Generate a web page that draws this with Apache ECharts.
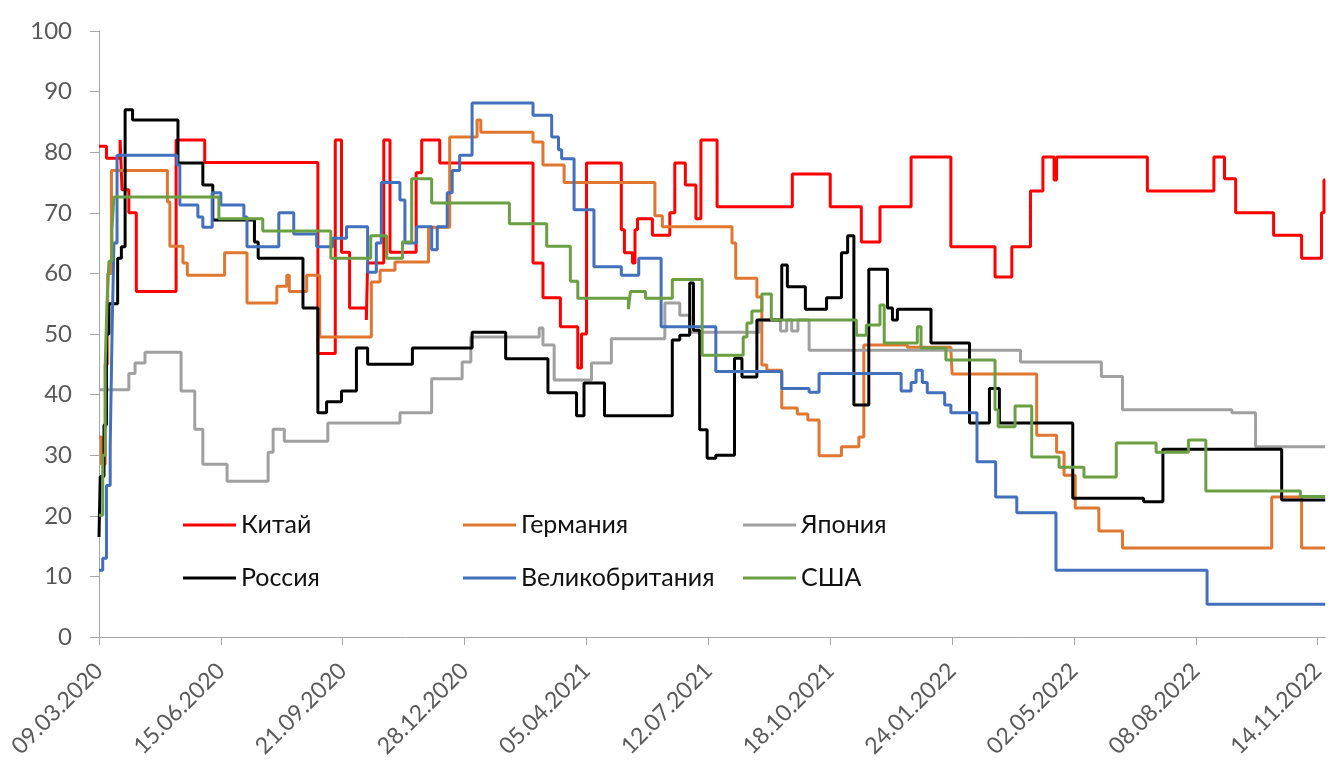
<!DOCTYPE html>
<html>
<head>
<meta charset="utf-8">
<script src="https://cdn.jsdelivr.net/npm/echarts@6.0.0/dist/echarts.min.js"></script>
<style>
  html, body { margin: 0; padding: 0; background: #fff; }
  #chart { width: 1328px; height: 772px; }
</style>
</head>
<body>
<div id="chart"></div>
<script>
// x = days since 09.03.2020, each point is the day the value starts
const tickLabels = ['09.03.2020', '15.06.2020', '21.09.2020', '28.12.2020', '05.04.2021', '12.07.2021',
  '18.10.2021', '24.01.2022', '02.05.2022', '08.08.2022', '14.11.2022']
const tickStep = 98
const lastDay = 986

const china = [[0,81],[6,79],[17,82],[18.5,73.8],[24,70],[30,57],[62,82],[85,78.3],[176,46.8],[190,82],[195,63.5],
  [201.5,54.3],[215,52.3],[216,61.7],[229,82],[234,63.5],[255,76.6],[259.5,82],[274,78.2],[349,61.7],[357,56],
  [371,51.2],[385,44.4],[388,50],[392,78.2],[420,67.2],[422.5,63.4],[429,61.7],[431,67.2],[433,69],[445,66.3],
  [459,70],[463,78.2],[471.5,74.6],[480,69],[484,82],[497,71],[557.5,76.4],[588,71],[613,65.2],[628,71],
  [653,79.2],[685,64.4],[720.5,59.4],[734,64.4],[749,73.6],[759,79.2],[768,75.4],[770,79.2],[843,73.6],
  [896.5,79.2],[905,75.6],[914,70],[944.5,66.3],[967,62.5],[983,70],[985,75.4],[986,75.4]]

const germany = [[0,33],[2,28.5],[5,45],[7,60],[10,77],[55,71.8],[57,64.5],[67.5,61.7],[71,59.7],[101,63.4],
  [119,55.1],[143,57.9],[151,59.7],[153,57],[167,59.7],[177.5,49.5],[219,58.6],[226,60.5],[238,61.9],[265,67.6],
  [282,82.5],[304,85.3],[307,83.3],[349,81.7],[357,77.9],[374,75],[447,69.5],[453,67.7],[509,65],[512,59.2],
  [529,56.1],[533,44.9],[537,44],[549,37.8],[561.5,36.8],[570,35.8],[579,29.9],[597,31.4],[611,33],[615,48.2],
  [650,47.8],[685,47.4],[686,43.4],[754,33.3],[770,30.5],[776,26.7],[785,21.3],[804,17.5],[823,14.7],[943,23.1],
  [967,14.7],[986,14.7]]

const japan = [[0,40.8],[24,43.5],[29,45.2],[37,47],[66,40.6],[77,34.3],[83.5,28.5],[103,25.7],[136,30.5],
  [140,34.3],[149,32.3],[184,35.3],[242,37],[267.5,42.6],[292,45.4],[299,49.5],[354,51],[357,48.2],[366,42.4],
  [396,45.2],[412,49.2],[455,55.1],[467,53.1],[475,50.3],[531,52.3],[548,50.5],[553,52.3],[557,50.5],[562,52.3],
  [571,47.3],[741,45.4],[806,43],[823,37.5],[911,37],[930,31.4],[986,31.4]]

const russia = [[0,16.5],[1,26.5],[4,35],[6,50],[8,55],[15,62.5],[18,64.4],[21,87],[27,85.3],[63.5,78.2],
  [83.5,74.6],[91.5,68.8],[125,65.2],[128,62.5],[164,54.3],[176,37],[183,38.8],[195,40.6],[207,47.7],[216,45],
  [252,47.7],[300,50.3],[327,45.9],[361,40.3],[384,36.5],[390,41.9],[406.5,36.5],[461,49],[467,49.8],[475,58.4],
  [478,50.6],[483,34.2],[489,29.5],[496,30],[511,46],[517,42.9],[529,52.3],[549,61.4],[553.5,57.8],[568,54.1],
  [585,56],[597,63.4],[602,66.2],[607,38.3],[619,60.7],[634,54.3],[638,52.3],[642,54.1],[669,48.5],[700,35.3],
  [716,41],[724,35.3],[783,22.9],[840,22.3],[855.5,31],[951,22.6],[986,22.6]]

const uk = [[0,11],[3,13],[6,25],[9,31.4],[10.5,50],[12,65],[14.5,79.5],[62.7,77.9],[65,71.3],[79.5,69.3],
  [83.5,67.6],[91,73.3],[98,71.3],[116.5,69.3],[119,64.4],[144.6,70],[156.6,66.5],[175,64.4],[188,65.8],
  [199,67.7],[216,60.2],[223,65],[227,75],[242,72.1],[246,65],[255.4,67.7],[267.5,63.9],[272,67.7],[280,73.3],
  [284,77],[290,79.5],[300,88.1],[349,86.1],[364,82.5],[369.5,80.4],[372,78.9],[382,70.5],[398,61.1],[420,59.7],
  [434,62.5],[452,51.2],[496,43.8],[549,41],[571,40.4],[579,43.5],[645,40.6],[653,42],[657,44],[662,42],
  [666,40.3],[680,38.3],[685,37],[706,28.9],[721,23.1],[738,20.5],[769.5,11],[891,5.4],[986,5.4]]

const usa = [[0,20.1],[3,30],[5,45],[6.4,55],[8,62],[10.4,67.2],[12,72.6],[96.4,69],[131.7,67],[186.4,62.5],
  [218.5,66.2],[231.3,62.5],[244,65.2],[251.4,75.6],[267.5,71.6],[330,68.2],[360,64.5],[379,58.7],[385,55.9],
  [425.7,54.1],[427.3,57],[439.4,55.9],[461,59],[485,46.5],[518,49.5],[521,51.8],[525,53.8],[533,56.6],
  [540.6,52.3],[609,49.8],[617,51.5],[628,54.8],[631.4,48.5],[658,51.2],[661,47.7],[681,45.7],[720.5,37.5],
  [723,34.7],[736.6,38.1],[750,29.7],[772,28],[792,26.4],[818,32],[850,30.5],[876,32.5],[890,24.1],[966,23.2],
  [986,23.2]]

const seriesNames = ['Китай', 'Германия', 'Япония', 'Россия', 'Великобритания', 'США']
const seriesData = [china, germany, japan, russia, uk, usa]
const seriesColors = ['#FF0000', '#E0762F', '#A0A0A0', '#000000', '#4270BC', '#6A9F43']

const tickValues = tickLabels.map((t, i) => i * tickStep)
const FONT = 'Lato, "Noto Sans", sans-serif'

// legend: 2 rows x 3 columns inside the plot
const legendLeft = [183, 463, 743]
const legendTop = [512, 565]
const legends = seriesNames.map((name, i) => ({
  data: [name],
  left: legendLeft[i % 3],
  top: legendTop[Math.floor(i / 3)],
  padding: 0,
  icon: 'rect',
  itemWidth: 53,
  itemHeight: 3,
  textStyle: { fontSize: 25, lineHeight: 26, color: '#111111', fontFamily: FONT }
}))

let myChart = echarts.init(document.getElementById('chart'))
myChart.setOption({
  animation: false,
  backgroundColor: '#ffffff',
  grid: { left: 99, right: 1, top: 31, bottom: 135 },
  legend: legends,
  xAxis: {
    type: 'value',
    min: 0,
    max: lastDay,
    splitLine: { show: false },
    axisLine: { show: true, lineStyle: { color: '#A6A6A6', width: 1 } },
    axisTick: { show: true, length: 8, lineStyle: { color: '#A6A6A6' }, customValues: tickValues },
    axisLabel: {
      customValues: tickValues,
      rotate: 45,
      margin: 30,
      fontSize: 23,
      color: '#595959',
      fontFamily: FONT,
      formatter: v => tickLabels[Math.round(v / tickStep)] || ''
    }
  },
  yAxis: {
    type: 'value',
    min: 0,
    max: 100,
    interval: 10,
    splitLine: { show: false },
    axisLine: { show: true, lineStyle: { color: '#A6A6A6', width: 1 } },
    axisTick: { show: true, length: 9, lineStyle: { color: '#A6A6A6' } },
    axisLabel: { margin: 27, fontSize: 24, color: '#595959', fontFamily: FONT }
  },
  series: seriesNames.map((name, i) => ({
    name: name,
    type: 'line',
    step: 'end',
    data: seriesData[i],
    showSymbol: false,
    color: seriesColors[i],
    lineStyle: { width: 3, color: seriesColors[i] }
  }))
})
</script>
</body>
</html>
